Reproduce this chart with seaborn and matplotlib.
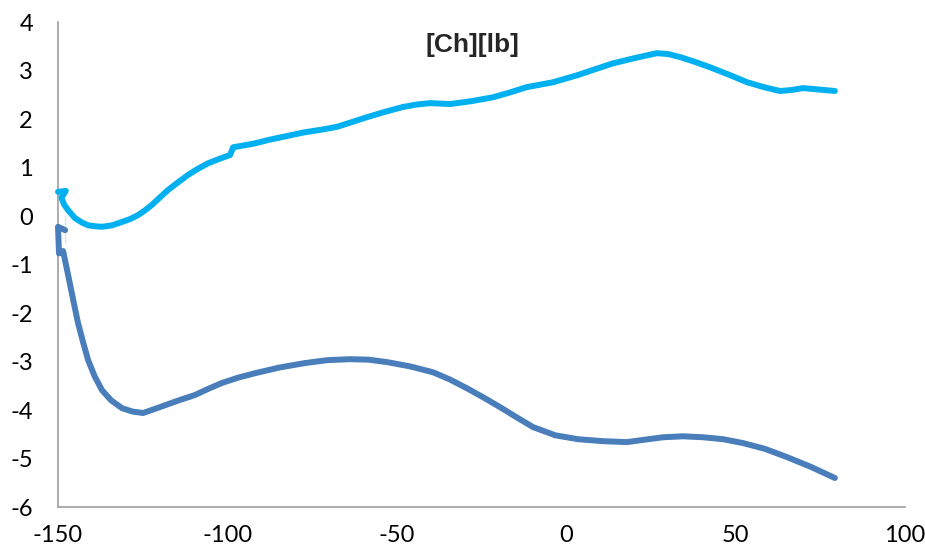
import pandas as pd
import matplotlib
matplotlib.use('Agg')
import matplotlib.pyplot as plt
import seaborn as sns

# serie azul claro
x_claro = [-150.0, -147.7, -149.0, -148.2, -147.0, -145.0, -143.0, -141.1, -139.0, -137.0,
           -134.0, -131.1, -128.7, -126.4, -124.3, -122.3, -120.0, -117.5, -114.5, -111.6,
           -108.6, -105.7, -102.4, -99.2, -98.3, -95.0, -91.9, -87.9, -83.9, -80.5,
           -77.1, -72.4, -67.7, -63.2, -58.8, -53.5, -48.2, -44.2, -40.2, -37.2,
           -34.3, -28.0, -21.6, -16.6, -11.6, -7.7, -3.9, 3.5, 8.6, 13.8,
           20.3, 26.8, 30.2, 33.6, 38.0, 42.4, 47.9, 53.4, 58.3, 63.1,
           66.5, 69.9, 74.6, 79.3]
y_claro = [0.50, 0.52, 0.38, 0.24, 0.12, -0.04, -0.13, -0.19, -0.21, -0.22,
           -0.19, -0.12, -0.06, 0.02, 0.12, 0.23, 0.38, 0.54, 0.70, 0.85,
           0.98, 1.09, 1.18, 1.26, 1.42, 1.46, 1.50, 1.57, 1.63, 1.68,
           1.73, 1.78, 1.84, 1.94, 2.04, 2.15, 2.25, 2.30, 2.33, 2.32,
           2.31, 2.37, 2.45, 2.55, 2.66, 2.71, 2.76, 2.91, 3.03, 3.15,
           3.26, 3.36, 3.34, 3.28, 3.18, 3.07, 2.92, 2.76, 2.66, 2.58,
           2.60, 2.64, 2.61, 2.58]

# serie azul escuro
x_escuro = [-147.9, -150.0, -147.9, -147.9, -149.7, -148.5, -147.5, -146.5, -145.3, -144.1,
            -142.6, -141.1, -139.2, -137.0, -134.3, -131.1, -128.0, -124.9, -121.6, -118.4,
            -114.0, -109.6, -105.6, -101.6, -96.8, -91.9, -84.5, -77.1, -70.5, -63.8,
            -58.4, -52.9, -46.0, -39.3, -34.3, -29.3, -24.4, -19.5, -14.6, -9.8,
            -3.2, 3.5, 10.7, 17.9, 23.2, 28.6, 34.5, 40.4, 46.3, 52.2,
            58.7, 65.2, 72.2, 79.3]
y_escuro = [0.02, -0.22, -0.33, -0.56, -0.77, -0.72, -1.05, -1.39, -1.80, -2.20,
            -2.60, -2.97, -3.30, -3.59, -3.80, -3.96, -4.03, -4.06, -3.98, -3.90,
            -3.79, -3.69, -3.56, -3.44, -3.33, -3.24, -3.12, -3.03, -2.97, -2.95,
            -2.96, -3.01, -3.10, -3.22, -3.37, -3.55, -3.74, -3.94, -4.15, -4.35,
            -4.52, -4.60, -4.64, -4.66, -4.61, -4.56, -4.54, -4.56, -4.60, -4.68,
            -4.80, -4.97, -5.17, -5.40]

df_claro = pd.DataFrame({'x': x_claro, 'y': y_claro})
df_escuro = pd.DataFrame({'x': x_escuro, 'y': y_escuro})

sns.set_style('white')
plt.rcParams['font.family'] = ['Lato', 'DejaVu Sans']
plt.rcParams['axes.unicode_minus'] = False

fig = plt.figure(figsize=(9.25, 5.53), dpi=100)
ax = fig.add_axes([0.0627, 0.083, 0.9157, 0.877])

estilo = dict(sort=False, lw=4.3, ax=ax, clip_on=False,
              solid_joinstyle='round', solid_capstyle='round')
sns.lineplot(data=df_escuro, x='x', y='y', color='#4A7EBB', **estilo)
sns.lineplot(data=df_claro, x='x', y='y', color='#00B0F0', **estilo)

ax.set_xlim(-150, 100)
ax.set_ylim(-6, 4)
ax.set_xticks(range(-150, 101, 50))
ax.set_yticks(range(-6, 5))
ax.set_xlabel('')
ax.set_ylabel('')
ax.tick_params(axis='both', length=0, labelsize=17, colors='black')
ax.tick_params(axis='y', pad=18)
ax.tick_params(axis='x', pad=13)
sns.despine(ax=ax)
for s in ['left', 'bottom']:
    ax.spines[s].set_color('#A6A6A6')
    ax.spines[s].set_linewidth(1.3)
    ax.spines[s].set_zorder(0.5)

fig.text(472 / 925, 1 - 45 / 553, '[Ch][lb]', ha='center', va='center',
         fontsize=19, fontweight='bold', family=['Liberation Sans', 'DejaVu Sans'])

plt.savefig('out.png', dpi=100)
